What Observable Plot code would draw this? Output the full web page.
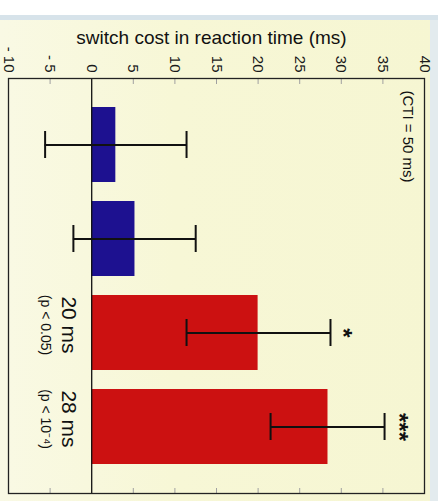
<!DOCTYPE html>
<html><head><meta charset="utf-8">
<script src="https://cdn.jsdelivr.net/npm/d3@7"></script>
<script src="https://cdn.jsdelivr.net/npm/@observablehq/plot@0.6"></script>
<style>
html,body{margin:0;padding:0;background:#fff;}
#chart svg{display:block;}
</style></head><body><div id="chart"></div>
<script>
const categories = ["cond 1", "cond 2", "cond 3", "cond 4"];
const means = [2.9, 5.2, 20.0, 28.4];
const errLow = [-5.6, -2.2, 11.4, 21.5];
const errHigh = [11.4, 12.5, 28.7, 35.2];
const groups = ["ns", "ns", "sig", "sig"];
const tickValues = [-10, -5, 0, 5, 10, 15, 20, 25, 30, 35, 40];
const tickLabels = ["- 10", "- 5", "0", "5", "10", "15", "20", "25", "30", "35", "40"];
const innerTicks = [-5, 5, 10, 15, 20, 25, 30, 35];
const valueLabels = ["", "", "20 ms", "28 ms"];
const pLabels = ["", "", "(p < 0.05)", "(p < 10\u207B\u2074)"];
const stars = ["", "", "*", "***"];
const starX = [null, null, 30.2, 36.9];
const valueLabelX = -2.8;
const pLabelX = -5.6;
const titleText = "switch cost in reaction time (ms)";
const noteText = "(CTI = 50 ms)";

const rows = categories.map((c, i) => ({
  cat: c, mean: means[i], lo: errLow[i], hi: errHigh[i], group: groups[i],
  vlabel: valueLabels[i], plabel: pLabels[i], star: stars[i], starX: starX[i]
}));
const labelled = rows.filter(d => d.vlabel);

const font = "Liberation Sans, Arial, Helvetica, sans-serif";

const chart = Plot.plot({
  width: 438,
  height: 501,
  marginLeft: 8,
  marginRight: 14,
  marginTop: 78,
  marginBottom: 8,
  style: {
    fontFamily: font,
    background: "linear-gradient(to bottom, #ffffff 0 15px, #d7e3ea 15px 20px, transparent 20px), linear-gradient(to right, transparent 430px, #e3ebee 430px), linear-gradient(to right, #f9f9e4 0, #f7f7d6 40%, #f6f6d2 100%)"
  },
  x: {domain: [-10, 40], axis: null},
  y: {domain: categories, axis: null, paddingInner: 0.2, paddingOuter: 0.3},
  color: {domain: ["ns", "sig"], range: ["#1d1190", "#cc1111"]},
  marks: [
    Plot.barX(rows, {x: "mean", y: "cat", fill: "group"}),
    Plot.ruleX([0], {stroke: "#111", strokeWidth: 1.3}),
    Plot.ruleY(rows, {x1: "lo", x2: "hi", y: "cat", stroke: "#111", strokeWidth: 2}),
    Plot.tickX(rows, {x: "lo", y: "cat", insetTop: 24, insetBottom: 24, stroke: "#111", strokeWidth: 2}),
    Plot.tickX(rows, {x: "hi", y: "cat", insetTop: 24, insetBottom: 24, stroke: "#111", strokeWidth: 2}),
    Plot.axisX({anchor: "top", ticks: innerTicks, tickSize: -5, tickFormat: () => "", stroke: "#a0a0a0", label: null}),
    Plot.axisX({anchor: "bottom", ticks: innerTicks, tickSize: -5, tickFormat: () => "", stroke: "#a0a0a0", label: null}),
    Plot.text(tickValues, {x: d => d, text: (d, i) => tickLabels[i], frameAnchor: "top", dy: -6, rotate: 90, textAnchor: "end", lineAnchor: "middle", fontSize: 15, fill: "#1a1a1a"}),
    Plot.frame({stroke: "#222", strokeWidth: 1.3}),
    Plot.text(labelled, {x: () => valueLabelX, y: "cat", text: "vlabel", rotate: 90, dy: -8, fontSize: 21, fill: "#111"}),
    Plot.text(labelled, {x: () => pLabelX, y: "cat", text: "plabel", rotate: 90, dy: -8, fontSize: 14, fill: "#111"}),
    Plot.text(labelled, {x: "starX", y: "cat", text: "star", rotate: 90, fontSize: 24, fontWeight: "bold", fill: "#111"}),
    Plot.text([titleText], {text: d => d, frameAnchor: "top", dy: -48, dx: -5, fontSize: 19, fill: "#111"}),
    Plot.text([noteText], {text: d => d, frameAnchor: "top-right", dx: -17, dy: 12, rotate: 90, textAnchor: "start", lineAnchor: "middle", fontSize: 15, fill: "#111"})
  ]
});
document.getElementById("chart").appendChild(chart);
</script></body></html>
